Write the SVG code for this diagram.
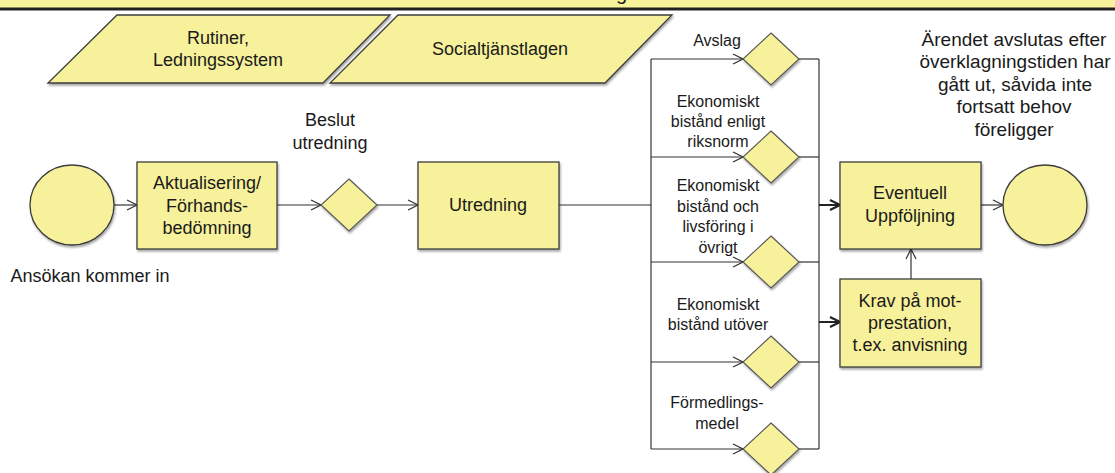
<svg xmlns="http://www.w3.org/2000/svg" width="1115" height="473" viewBox="0 0 1115 473">
  <defs>
    <filter id="shadow" x="-10%" y="-10%" width="125%" height="130%">
      <feGaussianBlur in="SourceAlpha" stdDeviation="1.2"/>
      <feOffset dx="1" dy="2" result="blur"/>
      <feComponentTransfer><feFuncA type="linear" slope="0.35"/></feComponentTransfer>
      <feMerge><feMergeNode/><feMergeNode in="SourceGraphic"/></feMerge>
    </filter>
    <marker id="arrow" viewBox="0 0 12 12" refX="11" refY="6" markerWidth="12" markerHeight="12" markerUnits="userSpaceOnUse" orient="auto">
      <path d="M1,1 L11,6 L1,11" fill="none" stroke="#333" stroke-width="1.2"/>
    </marker>
    <marker id="arrowBold" viewBox="0 0 12 12" refX="11" refY="6" markerWidth="12" markerHeight="12" markerUnits="userSpaceOnUse" orient="auto">
      <path d="M1,1 L11,6 L1,11" fill="none" stroke="#222" stroke-width="2.2"/>
    </marker>
  </defs>
  <style>
    .shape { fill: #f7f19b; stroke: #3c3c3c; stroke-width: 1.3; filter: url(#shadow); }
    .gate { fill: #f7f19b; stroke: #555; stroke-width: 1.1; filter: url(#shadow); }
    .t { font-family: "Liberation Sans", Arial, sans-serif; fill: #1a1a1a; text-anchor: middle; }
    .box { font-size: 18px; }
    .lbl { font-size: 16px; }
    .note { font-size: 18px; }
    .end-note { font-size: 19px; }
    .line { fill: none; stroke: #333; stroke-width: 1.2; }
    .bold { fill: none; stroke: #222; stroke-width: 2; }
  </style>

  <rect width="1115" height="473" fill="#ffffff"/>

  <!-- header band (title sits above the top edge, only its last descender shows) -->
  <g id="header">
    <rect x="0" y="0" width="1115" height="8" fill="#f8f29b"/>
    <rect x="0" y="7.5" width="1115" height="3" fill="#222"/>
    <text x="616" y="0" font-family="Liberation Sans, Arial, sans-serif" font-size="20" fill="#1a1a1a">g</text>
  </g>

  <!-- inputs -->
  <g id="rutiner">
    <polygon class="shape" points="117,15 390,15 323,83 48,83"/>
    <text class="t box" x="218" y="44">Rutiner,</text>
    <text class="t box" x="218" y="66">Ledningssystem</text>
  </g>
  <g id="socialtjanstlagen">
    <polygon class="shape" points="398,15 672,15 605,83 330,83"/>
    <text class="t box" x="500" y="55">Socialtjänstlagen</text>
  </g>

  <!-- connectors -->
  <g id="connectors">
    <path class="line" d="M114,205 H137" marker-end="url(#arrow)"/>
    <path class="line" d="M277,205 H321" marker-end="url(#arrow)"/>
    <path class="line" d="M377,205 H418" marker-end="url(#arrow)"/>
    <path class="line" d="M559,205 H651"/>
    <path class="line" d="M651,59 V449"/>
    <path class="line" d="M651,59 H743" marker-end="url(#arrow)"/>
    <path class="line" d="M651,157 H743" marker-end="url(#arrow)"/>
    <path class="line" d="M651,262 H743" marker-end="url(#arrow)"/>
    <path class="line" d="M651,362 H743" marker-end="url(#arrow)"/>
    <path class="line" d="M651,449 H743" marker-end="url(#arrow)"/>
    <path class="line" d="M799,59 H819"/>
    <path class="line" d="M799,157 H819"/>
    <path class="line" d="M799,262 H819"/>
    <path class="line" d="M799,362 H819"/>
    <path class="line" d="M799,449 H819"/>
    <path class="line" d="M819,59 V449"/>
    <path class="bold" d="M819,205 H840" marker-end="url(#arrowBold)"/>
    <path class="bold" d="M819,322 H840" marker-end="url(#arrowBold)"/>
    <path class="line" d="M911,279 V249" marker-end="url(#arrow)"/>
    <path class="line" d="M981,205 H1003" marker-end="url(#arrow)"/>
  </g>

  <!-- main flow -->
  <g id="start">
    <ellipse class="shape" cx="72" cy="205" rx="42" ry="40"/>
    <text class="t note" x="90" y="282">Ansökan kommer in</text>
  </g>
  <g id="aktualisering">
    <rect class="shape" x="137" y="162" width="140" height="87"/>
    <text class="t box" x="207" y="189">Aktualisering/</text>
    <text class="t box" x="207" y="212">Förhands-</text>
    <text class="t box" x="207" y="234">bedömning</text>
  </g>
  <g id="beslut">
    <polygon class="gate" points="349,179 377,205 349,231 321,205"/>
    <text class="t box" x="330" y="126">Beslut</text>
    <text class="t box" x="330" y="149">utredning</text>
  </g>
  <g id="utredning">
    <rect class="shape" x="418" y="162" width="141" height="87"/>
    <text class="t box" x="488" y="211">Utredning</text>
  </g>

  <!-- decisions -->
  <g id="avslag">
    <polygon class="gate" points="771,33 799,59 771,85 743,59"/>
    <text class="t lbl" x="717" y="46">Avslag</text>
  </g>
  <g id="riksnorm">
    <polygon class="gate" points="771,131 799,157 771,183 743,157"/>
    <text class="t lbl" x="718" y="107">Ekonomiskt</text>
    <text class="t lbl" x="718" y="127">bistånd enligt</text>
    <text class="t lbl" x="718" y="147">riksnorm</text>
  </g>
  <g id="livsforing">
    <polygon class="gate" points="771,236 799,262 771,288 743,262"/>
    <text class="t lbl" x="718" y="191">Ekonomiskt</text>
    <text class="t lbl" x="718" y="212">bistånd och</text>
    <text class="t lbl" x="718" y="232">livsföring i</text>
    <text class="t lbl" x="718" y="253">övrigt</text>
  </g>
  <g id="utover">
    <polygon class="gate" points="771,336 799,362 771,388 743,362"/>
    <text class="t lbl" x="718" y="310">Ekonomiskt</text>
    <text class="t lbl" x="718" y="330">bistånd utöver</text>
  </g>
  <g id="formedlingsmedel">
    <polygon class="gate" points="771,423 799,449 771,475 743,449"/>
    <text class="t lbl" x="717" y="408">Förmedlings-</text>
    <text class="t lbl" x="717" y="429">medel</text>
  </g>

  <!-- follow-up -->
  <g id="uppfoljning">
    <rect class="shape" x="840" y="162" width="141" height="87"/>
    <text class="t box" x="910" y="199">Eventuell</text>
    <text class="t box" x="910" y="222">Uppföljning</text>
  </g>
  <g id="krav">
    <rect class="shape" x="840" y="279" width="141" height="88"/>
    <text class="t box" x="910" y="307">Krav på mot-</text>
    <text class="t box" x="910" y="329">prestation,</text>
    <text class="t box" x="910" y="351">t.ex. anvisning</text>
  </g>
  <g id="end">
    <ellipse class="shape" cx="1045" cy="205" rx="42" ry="40"/>
  </g>
  <g id="avslut">
    <text class="t end-note" x="1014" y="46">Ärendet avslutas efter</text>
    <text class="t end-note" x="1015" y="68">överklagningstiden har</text>
    <text class="t end-note" x="1015" y="91">gått ut, såvida inte</text>
    <text class="t end-note" x="1014" y="113">fortsatt behov</text>
    <text class="t end-note" x="1014" y="136">föreligger</text>
  </g>
</svg>
